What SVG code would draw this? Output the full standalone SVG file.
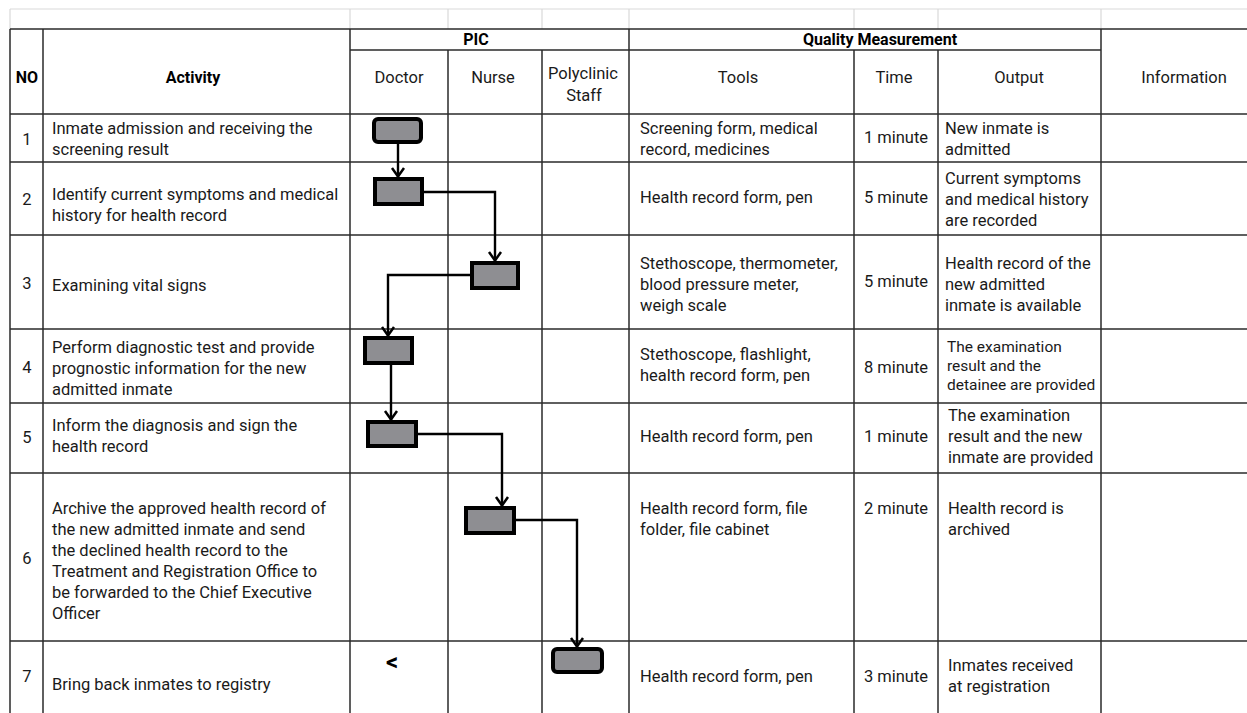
<svg xmlns="http://www.w3.org/2000/svg" width="1247" height="713" viewBox="0 0 1247 713">
<style>
.t{font-family:Roboto,"Liberation Sans",sans-serif;font-size:16.5px;fill:#1a1a1a}
.s{font-size:15.5px}
.b{font-weight:bold;font-size:16px;fill:#000}
.m{text-anchor:middle}
.grid{stroke:#2b2b2b;stroke-width:1.5;fill:none}
.light{stroke:#d9d9d9;stroke-width:1.2;fill:none}
.box{fill:#8e8e92;stroke:#000;stroke-width:4}
.con{fill:none;stroke:#000;stroke-width:2.4}
</style>
<defs>
<marker id="arr" markerUnits="userSpaceOnUse" markerWidth="12" markerHeight="16" viewBox="0 0 12 16" refX="11" refY="8" orient="auto">
<path d="M2,2 L10.5,8 L2,14" fill="none" stroke="#000" stroke-width="2.5"/>
</marker>
</defs>
<rect width="1247" height="713" fill="#fff"/>
<g id="table-grid">
<path class="light" d="M10,9 H1247 M10,9 V29 M350,9 V29 M448,9 V29 M542,9 V29 M629,9 V29 M854,9 V29 M938,9 V29 M1101,9 V29"/>
<path class="grid" d="M10,29 H1247 M350,50 H1101 M10,114 H1247 M10,162 H1247 M10,235 H1247 M10,329 H1247 M10,403 H1247 M10,473 H1247 M10,641 H1247"/>
<path class="grid" d="M10,29 V713 M43,29 V713 M350,29 V713 M448,50 V713 M542,50 V713 M629,29 V713 M854,50 V713 M938,50 V713 M1101,29 V713"/>
</g>
<g id="header">
<text class="t b m" x="27" y="83">NO</text>
<text class="t b m" x="193" y="83">Activity</text>
<text class="t b m" x="476" y="45">PIC</text>
<text class="t b m" x="880" y="45">Quality Measurement</text>
<text class="t m" x="399" y="83">Doctor</text>
<text class="t m" x="493" y="83">Nurse</text>
<text class="t m" x="583" y="79">Polyclinic</text>
<text class="t m" x="584" y="101">Staff</text>
<text class="t m" x="738" y="83">Tools</text>
<text class="t m" x="894" y="83">Time</text>
<text class="t m" x="1019" y="83">Output</text>
<text class="t m" x="1184" y="83">Information</text>
</g>
<g id="row1">
<text class="t m" x="27" y="145">1</text>
<text class="t" x="52" y="134">Inmate admission and receiving the</text>
<text class="t" x="52" y="155">screening result</text>
<text class="t" x="640" y="134">Screening form, medical</text>
<text class="t" x="640" y="155">record, medicines</text>
<text class="t m" x="896" y="143">1 minute</text>
<text class="t" x="945" y="134">New inmate is</text>
<text class="t" x="945" y="155">admitted</text>
</g>
<g id="row2">
<text class="t m" x="27" y="205">2</text>
<text class="t" x="52" y="200">Identify current symptoms and medical</text>
<text class="t" x="52" y="221">history for health record</text>
<text class="t" x="640" y="203">Health record form, pen</text>
<text class="t m" x="896" y="203">5 minute</text>
<text class="t" x="945" y="184">Current symptoms</text>
<text class="t" x="945" y="205">and medical history</text>
<text class="t" x="945" y="226">are recorded</text>
</g>
<g id="row3">
<text class="t m" x="27" y="289">3</text>
<text class="t" x="52" y="291">Examining vital signs</text>
<text class="t" x="640" y="269">Stethoscope, thermometer,</text>
<text class="t" x="640" y="290">blood pressure meter,</text>
<text class="t" x="640" y="311">weigh scale</text>
<text class="t m" x="896" y="287">5 minute</text>
<text class="t" x="945" y="269">Health record of the</text>
<text class="t" x="945" y="290">new admitted</text>
<text class="t" x="945" y="311">inmate is available</text>
</g>
<g id="row4">
<text class="t m" x="27" y="373">4</text>
<text class="t" x="52" y="353">Perform diagnostic test and provide</text>
<text class="t" x="52" y="374">prognostic information for the new</text>
<text class="t" x="52" y="395">admitted inmate</text>
<text class="t" x="640" y="360">Stethoscope, flashlight,</text>
<text class="t" x="640" y="381">health record form, pen</text>
<text class="t m" x="896" y="373">8 minute</text>
<text class="t s" x="947" y="352">The examination</text>
<text class="t s" x="947" y="371">result and the</text>
<text class="t s" x="947" y="390">detainee are provided</text>
</g>
<g id="row5">
<text class="t m" x="27" y="443">5</text>
<text class="t" x="52" y="431">Inform the diagnosis and sign the</text>
<text class="t" x="52" y="452">health record</text>
<text class="t" x="640" y="442">Health record form, pen</text>
<text class="t m" x="896" y="442">1 minute</text>
<text class="t" x="948" y="421">The examination</text>
<text class="t" x="948" y="442">result and the new</text>
<text class="t" x="948" y="463">inmate are provided</text>
</g>
<g id="row6">
<text class="t m" x="27" y="564">6</text>
<text class="t" x="52" y="514">Archive the approved health record of</text>
<text class="t" x="52" y="535">the new admitted inmate and send</text>
<text class="t" x="52" y="556">the declined health record to the</text>
<text class="t" x="52" y="577">Treatment and Registration Office to</text>
<text class="t" x="52" y="598">be forwarded to the Chief Executive</text>
<text class="t" x="52" y="619">Officer</text>
<text class="t" x="640" y="514">Health record form, file</text>
<text class="t" x="640" y="535">folder, file cabinet</text>
<text class="t m" x="896" y="514">2 minute</text>
<text class="t" x="948" y="514">Health record is</text>
<text class="t" x="948" y="535">archived</text>
</g>
<g id="row7">
<text class="t m" x="27" y="682">7</text>
<text class="t" x="52" y="690">Bring back inmates to registry</text>
<text class="t b m" x="392" y="670" style="font-size:24px">&lt;</text>
<text class="t" x="640" y="682">Health record form, pen</text>
<text class="t m" x="896" y="682">3 minute</text>
<text class="t" x="948" y="671">Inmates received</text>
<text class="t" x="948" y="692">at registration</text>
</g>
<g id="connectors">
<path class="con" d="M398,144 V177" marker-end="url(#arr)"/>
<path class="con" d="M424,192 H495 V261" marker-end="url(#arr)"/>
<path class="con" d="M470,275 H388 V336" marker-end="url(#arr)"/>
<path class="con" d="M391,365 V420" marker-end="url(#arr)"/>
<path class="con" d="M418,434 H502 V506" marker-end="url(#arr)"/>
<path class="con" d="M516,520 H577 V647" marker-end="url(#arr)"/>
</g>
<g id="step1"><rect class="box" x="374" y="119" width="47" height="23" rx="4"/></g>
<g id="step2"><rect class="box" x="375" y="179" width="47" height="25"/></g>
<g id="step3"><rect class="box" x="472" y="263" width="46" height="25"/></g>
<g id="step4"><rect class="box" x="365" y="338" width="47" height="25"/></g>
<g id="step5"><rect class="box" x="368" y="422" width="48" height="24"/></g>
<g id="step6"><rect class="box" x="466" y="508" width="48" height="25"/></g>
<g id="step7"><rect class="box" x="553" y="649" width="49" height="23" rx="4"/></g>
</svg>
